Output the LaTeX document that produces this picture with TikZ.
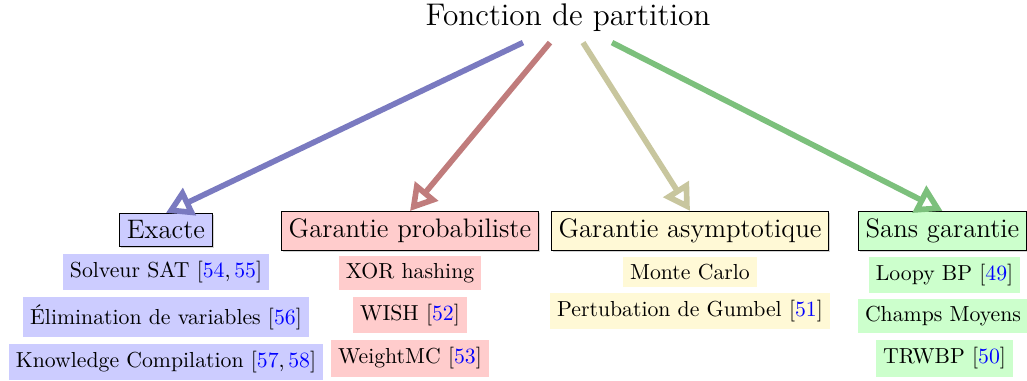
\documentclass[tikz,border=0pt]{standalone}
\usetikzlibrary{arrows.meta,shadows,calc}

% category colours: light fills and stroke colours of the links
\definecolor{exaFill}{RGB}{204,204,255}
\definecolor{proFill}{RGB}{255,204,204}
\definecolor{asyFill}{RGB}{255,249,214}
\definecolor{sanFill}{RGB}{204,255,204}
\definecolor{exaLink}{RGB}{122,122,192}
\definecolor{proLink}{RGB}{192,124,124}
\definecolor{asyLink}{RGB}{200,198,158}
\definecolor{sanLink}{RGB}{124,192,124}

\newcommand{\cit}[1]{\textcolor{blue}{#1}}

\begin{document}
\begin{tikzpicture}[x=0.46pt,y=-0.46pt,
  headbox/.style={draw=black, line width=0.5pt, font=\fontsize{12.3}{15}\selectfont, inner sep=3.4pt,
    drop shadow={shadow xshift=0.7pt, shadow yshift=-0.7pt, opacity=0.35}},
  itembox/.style={inner sep=3.33pt},
  link/.style={line width=2.6pt, -{Triangle[open, length=12pt, width=13.5pt]}},
]
\useasboundingbox (0,0) rectangle (1027,380);

% root
\node[font=\Large] (title) at (568,18) {Fonction de partition};

% category headers
\node[headbox, fill=exaFill] (exa) at (166,230) {Exacte};
\node[headbox, fill=proFill] (pro) at (410,231) {Garantie probabiliste};
\node[headbox, fill=asyFill] (asy) at (690,231) {Garantie asymptotique};
\node[headbox, fill=sanFill] (san) at (942.5,231) {Sans garantie};

% methods of each category
\node[itembox, fill=exaFill] (e1) at (166,272) {Solveur SAT [\cit{54},\,\cit{55}]};
\node[itembox, fill=exaFill] (e2) at (166,317) {Élimination de variables [\cit{56}]};
\node[itembox, fill=exaFill] (e3) at (166,362) {Knowledge Compilation [\cit{57},\,\cit{58}]};

\node[itembox, fill=proFill] (p1) at (410,273) {XOR hashing};
\node[itembox, fill=proFill] (p2) at (410,315) {WISH [\cit{52}]};
\node[itembox, fill=proFill] (p3) at (410,358.5) {WeightMC [\cit{53}]};

\node[itembox, fill=asyFill] (a1) at (690,272) {Monte Carlo};
\node[itembox, fill=asyFill] (a2) at (690,311) {Pertubation de Gumbel [\cit{51}]};

\node[itembox, fill=sanFill] (s1) at (944.5,275) {Loopy BP [\cit{49}]};
\node[itembox, fill=sanFill] (s2) at (943,316) {Champs Moyens};
\node[itembox, fill=sanFill] (s3) at (944.5,358.5) {TRWBP [\cit{50}]};

% start points of the links under the root
\coordinate (o1) at ($(title.south)+(-45,3)$);
\coordinate (o2) at ($(title.south)+(-18,3)$);
\coordinate (o3) at ($(title.south)+(15,3)$);
\coordinate (o4) at ($(title.south)+(44,3)$);

\draw[link, exaLink] (o1) -- (exa.north);
\draw[link, proLink] (o2) -- (pro.north);
\draw[link, asyLink] (o3) -- (asy.north);
\draw[link, sanLink] (o4) -- (san.north);
\end{tikzpicture}
\end{document}
